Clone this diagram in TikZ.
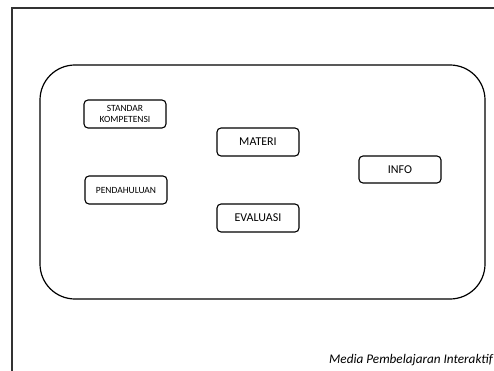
\documentclass[tikz,border=0pt]{standalone}
\usepackage{fontspec}
\setmainfont{Carlito}
\begin{document}
\begin{tikzpicture}[x=1pt,y=-1pt,
  menubox/.style={draw=black, line width=1.1pt, rounded corners=4pt,
    minimum width=82pt, minimum height=28pt, inner sep=1pt, align=center,
    font=\fontsize{12}{13}\selectfont},
  smallbox/.style={menubox, font=\fontsize{9.5}{11}\selectfont}]
\useasboundingbox (0,0) rectangle (494,371);
\clip (0,0) rectangle (494,371);
\fill[white] (0,0) rectangle (494,371);

% page frame
\draw[line width=1.4pt, black!80] (12,372) -- (12,8) -- (495,8);

% main panel
\draw[line width=1.2pt, rounded corners=35pt] (40,65) rectangle (485,299);

% menu buttons
\node[smallbox] (sk) at (125,114) {STANDAR\\KOMPETENSI};
\node[smallbox] (pend) at (126,190) {PENDAHULUAN};
\node[menubox] (materi) at (258,142) {MATERI};
\node[menubox] (eval) at (258,218) {EVALUASI};
\node[menubox, minimum height=27pt] (info) at (400,169.5) {INFO};

% footer caption
\node[anchor=base west, inner sep=0pt, font=\fontsize{13.2}{14}\selectfont\itshape] (cap) at (329,363) {Media Pembelajaran Interaktif};
\end{tikzpicture}
\end{document}
